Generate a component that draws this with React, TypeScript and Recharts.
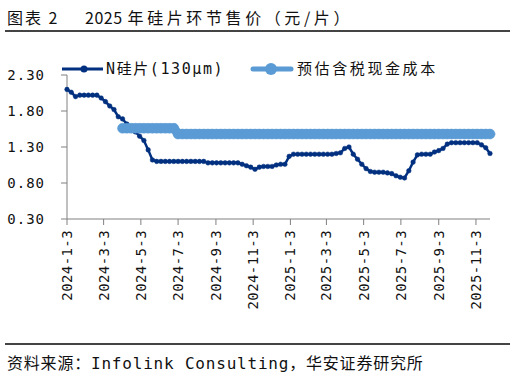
import { LineChart, Line, XAxis, YAxis } from "recharts";

// weekly price points, first one on 2024-01-03
const START = Date.UTC(2024, 0, 3);
const DAY = 86400000;

// N型硅片(130μm)，元/片
const nWafer = [
  2.1, 2.06, 2.0, 2.02, 2.02, 2.02, 2.02, 2.02, 1.98, 1.93,
  1.87, 1.82, 1.72, 1.69, 1.62, 1.56, 1.51, 1.45, 1.39, 1.26,
  1.12, 1.1, 1.1, 1.1, 1.1, 1.1, 1.1, 1.1, 1.1, 1.1,
  1.1, 1.1, 1.1, 1.08, 1.08, 1.08, 1.08, 1.08, 1.08, 1.08,
  1.08, 1.06, 1.04, 1.02, 0.99, 1.02, 1.03, 1.03, 1.03, 1.05,
  1.06, 1.06, 1.17, 1.2, 1.2, 1.2, 1.2, 1.2, 1.2, 1.2,
  1.2, 1.2, 1.2, 1.21, 1.22, 1.28, 1.3, 1.2, 1.13, 1.06,
  1.0, 0.96, 0.95, 0.95, 0.95, 0.94, 0.93, 0.9, 0.88, 0.87,
  0.97, 1.09, 1.19, 1.2, 1.2, 1.2, 1.23, 1.25, 1.28, 1.34,
  1.36, 1.36, 1.36, 1.36, 1.36, 1.36, 1.36, 1.33, 1.29, 1.21,
];

// 预估含税现金成本
const cashCost = [
  null, null, null, null, null, null, null, null, null, null,
  null, null, null, 1.56, 1.56, 1.56, 1.56, 1.56, 1.56, 1.56,
  1.56, 1.56, 1.56, 1.56, 1.56, 1.56, 1.48, 1.48, 1.48, 1.48,
  1.48, 1.48, 1.48, 1.48, 1.48, 1.48, 1.48, 1.48, 1.48, 1.48,
  1.48, 1.48, 1.48, 1.48, 1.48, 1.48, 1.48, 1.48, 1.48, 1.48,
  1.48, 1.48, 1.48, 1.48, 1.48, 1.48, 1.48, 1.48, 1.48, 1.48,
  1.48, 1.48, 1.48, 1.48, 1.48, 1.48, 1.48, 1.48, 1.48, 1.48,
  1.48, 1.48, 1.48, 1.48, 1.48, 1.48, 1.48, 1.48, 1.48, 1.48,
  1.48, 1.48, 1.48, 1.48, 1.48, 1.48, 1.48, 1.48, 1.48, 1.48,
  1.48, 1.48, 1.48, 1.48, 1.48, 1.48, 1.48, 1.48, 1.48, 1.48,
];

const tickDates = [
  "2024-1-3", "2024-3-3", "2024-5-3", "2024-7-3", "2024-9-3", "2024-11-3",
  "2025-1-3", "2025-3-3", "2025-5-3", "2025-7-3", "2025-9-3", "2025-11-3",
];
const yTicks = [0.3, 0.8, 1.3, 1.8, 2.3];

const toDay = (s: string) => {
  const [y, m, d] = s.split("-").map(Number);
  return (Date.UTC(y, m - 1, d) - START) / DAY;
};
const dayLabel = new Map(tickDates.map((s) => [toDay(s), s]));

const data = nWafer.map((v, i) => ({ day: i * 7, nWafer: v, cashCost: cashCost[i] }));

const DARK = "#00307F";
const BLUE = "#5B9BD5";
const AXIS = "#808080";
const MONO = '"DejaVu Sans Mono", "Noto Sans CJK SC", monospace';
const CJK = '"DejaVu Sans Mono", "Noto Sans CJK SC", sans-serif';
const SANS = '"Noto Sans CJK SC", sans-serif';

function DateTick({ x, y, payload }: any) {
  return (
    <g transform={`translate(${x},${y})`}>
      <text
        transform="rotate(-90)"
        x={-3}
        y={0}
        dy="0.35em"
        textAnchor="end"
        fontSize={14}
        fontFamily={MONO}
        fill="#111"
        letterSpacing={0.4}
      >
        {dayLabel.get(payload.value) ?? ""}
      </text>
    </g>
  );
}

export default function App() {
  return (
    <div
      style={{
        position: "absolute",
        left: 0,
        top: 0,
        width: 515,
        height: 375,
        background: "#fff",
        fontFamily: CJK,
        color: "#111",
        overflow: "hidden",
      }}
    >
      <div style={{ position: "absolute", left: 7, top: 5, fontSize: 16, letterSpacing: 2, whiteSpace: "nowrap", fontFamily: SANS }}>
        图表 2
      </div>
      <div style={{ position: "absolute", left: 85, top: 5, fontSize: 16, whiteSpace: "nowrap", fontFamily: SANS }}>
        <span style={{ letterSpacing: 0.5 }}>2025</span>
        <span style={{ letterSpacing: 3.6, marginLeft: 5 }}>年硅片环节售价（元/片）</span>
      </div>
      <div style={{ position: "absolute", left: 5, top: 30, width: 505, height: 1.5, background: "#444" }} />

      {/* legend */}
      <svg style={{ position: "absolute", left: 0, top: 58 }} width={515} height={22}>
        <line x1={62} y1={11} x2={103} y2={11} stroke={DARK} strokeWidth={3} />
        <circle cx={84} cy={11} r={3.5} fill={DARK} />
        <text x={106} y={11} dy="0.35em" fontSize={15} fontFamily={CJK} fill="#111" letterSpacing={1.6}>
          N硅片(130μm)
        </text>
        <line x1={253} y1={11} x2={291} y2={11} stroke={BLUE} strokeWidth={5} strokeLinecap="round" />
        <circle cx={271} cy={11} r={6} fill={BLUE} />
        <text x={297} y={11} dy="0.35em" fontSize={15} fontFamily={CJK} fill="#111" letterSpacing={2.6}>
          预估含税现金成本
        </text>
      </svg>

      <div style={{ position: "absolute", left: 0, top: 0 }}>
        <LineChart width={515} height={340} data={data} margin={{ top: 75, right: 25, left: 7, bottom: 31 }}>
          <XAxis
            dataKey="day"
            type="number"
            domain={[0, 693]}
            ticks={tickDates.map(toDay)}
            tick={<DateTick />}
            tickSize={6}
            tickMargin={2}
            interval={0}
            height={90}
            stroke={AXIS}
            tickLine={{ stroke: AXIS }}
          />
          <YAxis
            domain={[0.3, 2.3]}
            ticks={yTicks}
            tickFormatter={(v: number) => v.toFixed(2)}
            width={60}
            tickSize={6}
            tickMargin={16}
            stroke={AXIS}
            tick={{ fontSize: 14, fill: "#111", fontFamily: MONO, letterSpacing: 1 }}
          />
          <Line
            dataKey="nWafer"
            stroke={DARK}
            strokeWidth={2.5}
            dot={{ r: 2.3, fill: DARK, stroke: DARK, strokeWidth: 0.5 }}
            isAnimationActive={false}
          />
          <Line
            dataKey="cashCost"
            stroke={BLUE}
            strokeWidth={9}
            strokeLinecap="round"
            dot={{ r: 5, fill: BLUE, stroke: BLUE, strokeWidth: 0.5 }}
            isAnimationActive={false}
          />
        </LineChart>
      </div>

      <div style={{ position: "absolute", left: 5, top: 343, width: 505, height: 1.5, background: "#444" }} />
      <div style={{ position: "absolute", left: 7, top: 350, fontSize: 16, letterSpacing: 0.8, whiteSpace: "nowrap" }}>
        资料来源：Infolink Consulting，华安证券研究所
      </div>
    </div>
  );
}
